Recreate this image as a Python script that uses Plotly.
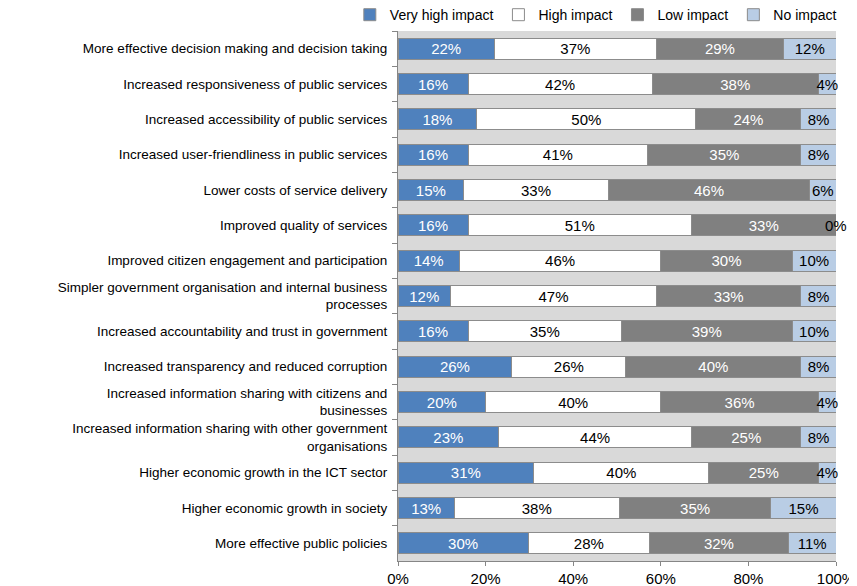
import plotly.graph_objects as go

# data
categories = [
    "More effective decision making and decision taking",
    "Increased responsiveness of public services",
    "Increased accessibility of public services",
    "Increased user-friendliness in public services",
    "Lower costs of service delivery",
    "Improved quality of services",
    "Improved citizen engagement and participation",
    "Simpler government organisation and internal business<br>processes",
    "Increased accountability and trust in government",
    "Increased transparency and reduced corruption",
    "Increased information sharing with citizens and<br>businesses",
    "Increased information sharing with other government<br>organisations",
    "Higher economic growth in the ICT sector",
    "Higher economic growth in society",
    "More effective public policies",
]
very_high = [22, 16, 18, 16, 15, 16, 14, 12, 16, 26, 20, 23, 31, 13, 30]
high = [37, 42, 50, 41, 33, 51, 46, 47, 35, 26, 40, 44, 40, 38, 28]
low = [29, 38, 24, 35, 46, 33, 30, 33, 39, 40, 36, 25, 25, 35, 32]
no_impact = [12, 4, 8, 8, 6, 0, 10, 8, 10, 8, 4, 8, 4, 15, 11]
x_ticks = [0, 20, 40, 60, 80, 100]

series = [
    ("Very high impact", very_high, "#4f81bd", "white"),
    ("High impact", high, "#ffffff", "black"),
    ("Low impact", low, "#808080", "white"),
    ("No impact", no_impact, "#b9cde5", "black"),
]

FS = 15

fig = go.Figure()
for name, vals, color, tcol in series:
    fig.add_trace(go.Bar(
        y=categories, x=vals, name=name, orientation="h",
        marker=dict(color=color, line=dict(color="#8c8c8c", width=1)),
        text=[f"{v}%" for v in vals],
        textposition="inside", insidetextanchor="middle",
        constraintext="none", textangle=0,
        textfont=dict(color=tcol, size=FS),
        cliponaxis=False,
        hoverinfo="skip",
    ))

# zero-width segments get their label at the end of the stack (as in the original)
for i, v in enumerate(no_impact):
    if v == 0:
        total = very_high[i] + high[i] + low[i] + v
        end = (very_high[i] + high[i] + low[i] + v) / total * 100
        fig.add_annotation(x=end, y=categories[i], text=f"{v}%", showarrow=False,
                           font=dict(size=FS, color="black"))

# page body has an 8px margin, so the figure is sized to fill the rest of the window
fig.update_layout(
    barmode="stack", barnorm="percent", bargap=0.4,
    width=849, height=578,
    margin=dict(l=390, r=21, t=23, b=25, autoexpand=False),
    paper_bgcolor="white", plot_bgcolor="#d9d9d9",
    font=dict(family="Liberation Sans, Arial", size=FS, color="black"),
    legend=dict(orientation="h", x=-0.11, xanchor="left",
                y=1.03, yanchor="middle",
                font=dict(size=14), traceorder="normal",
                itemwidth=30, tracegroupgap=0),
    showlegend=True,
)
fig.update_xaxes(
    range=[0, 100], tickvals=x_ticks, ticktext=[f"{t}%" for t in x_ticks],
    showgrid=False, zeroline=False, showline=True, linecolor="#868686",
    ticks="outside", ticklen=4, tickcolor="#868686",
    tickfont=dict(size=FS),
)
fig.update_yaxes(
    autorange="reversed", showgrid=False, showline=True, linecolor="#868686",
    ticks="outside", ticklen=5, tickcolor="#868686", tickson="boundaries",
    ticklabelstandoff=7, tickfont=dict(size=13.5),
)

fig.write_html("out.html")
